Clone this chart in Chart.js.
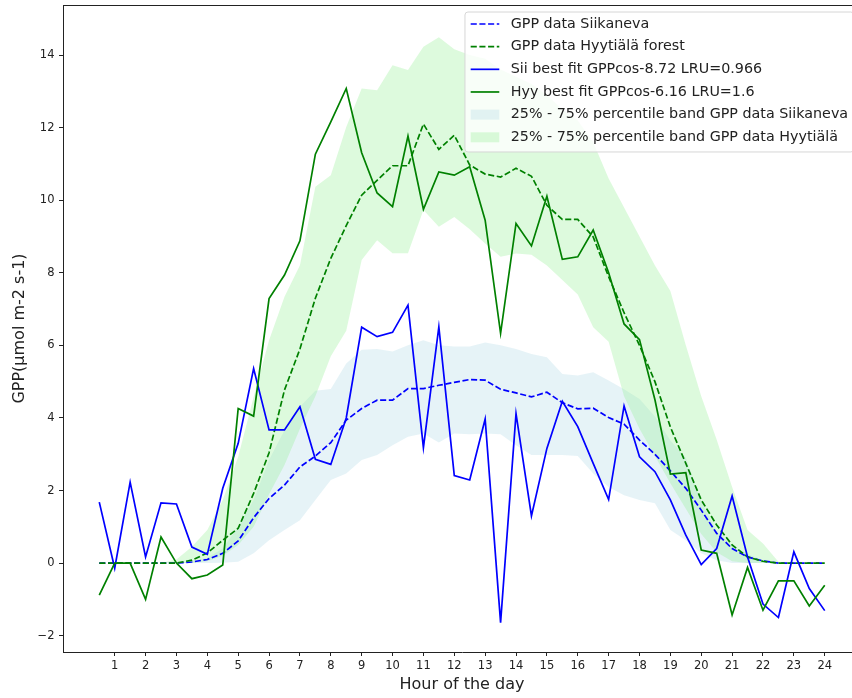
<!DOCTYPE html>
<html>
<head>
<meta charset="utf-8">
<script src="https://cdn.jsdelivr.net/npm/chart.js@4.4.1/dist/chart.umd.min.js"></script>
<style>
  html, body { margin: 0; padding: 0; background: #fff; overflow: hidden; }
  #wrap { width: 852px; height: 698px; overflow: hidden; }
</style>
</head>
<body>
<div id="wrap"><canvas id="gpp" width="866" height="698"></canvas></div>
<script>
// half-hourly values, hour of the day
const hours = [0.5, 1, 1.5, 2, 2.5, 3, 3.5, 4, 4.5, 5, 5.5, 6, 6.5, 7, 7.5, 8,
  8.5, 9, 9.5, 10, 10.5, 11, 11.5, 12, 12.5, 13, 13.5, 14, 14.5, 15, 15.5, 16,
  16.5, 17, 17.5, 18, 18.5, 19, 19.5, 20, 20.5, 21, 21.5, 22, 22.5, 23, 23.5, 24];
const hourTicks = [1, 2, 3, 4, 5, 6, 7, 8, 9, 10, 11, 12, 13, 14, 15, 16, 17, 18, 19, 20, 21, 22, 23, 24];
const gppTicks = [-2, 0, 2, 4, 6, 8, 10, 12, 14];

const siiData = [0, 0, 0, 0, 0, 0, 0.03, 0.10, 0.27, 0.61, 1.25, 1.78, 2.15, 2.65, 2.95, 3.32,
  3.94, 4.26, 4.49, 4.49, 4.81, 4.81, 4.90, 4.98, 5.06, 5.04, 4.79, 4.69, 4.58, 4.71, 4.42, 4.25,
  4.27, 4.01, 3.83, 3.39, 3.00, 2.54, 2.06, 1.46, 0.82, 0.40, 0.17, 0.06, 0, 0, 0, 0];
const hyyData = [0, 0, 0, 0, 0, 0, 0.08, 0.28, 0.63, 0.96, 1.92, 3.04, 4.77, 5.90, 7.30, 8.40,
  9.30, 10.14, 10.55, 10.95, 10.95, 12.10, 11.40, 11.79, 10.97, 10.72, 10.64, 10.88, 10.66, 9.86, 9.47, 9.47,
  8.99, 7.89, 6.90, 6.00, 5.00, 3.75, 2.75, 1.74, 1.05, 0.50, 0.17, 0.05, 0, 0, 0, 0];
const siiFit = [1.68, -0.14, 2.23, 0.17, 1.66, 1.63, 0.44, 0.24, 2.06, 3.30, 5.36, 3.67, 3.67, 4.31, 2.86, 2.72,
  4.00, 6.50, 6.24, 6.36, 7.11, 3.18, 6.51, 2.41, 2.29, 3.97, -1.64, 4.12, 1.30, 3.16, 4.46, 3.76,
  2.75, 1.75, 4.33, 2.93, 2.52, 1.74, 0.77, -0.04, 0.40, 1.85, 0.17, -1.13, -1.50, 0.31, -0.70, -1.31];
const hyyFit = [-0.88, 0, 0, -1.00, 0.72, 0, -0.43, -0.33, -0.05, 4.26, 4.05, 7.29, 7.94, 8.88, 11.27, 12.16,
  13.08, 11.31, 10.20, 9.82, 11.77, 9.75, 10.78, 10.69, 10.92, 9.45, 6.33, 9.36, 8.74, 10.11, 8.37, 8.44,
  9.18, 8.00, 6.59, 6.16, 4.50, 2.45, 2.49, 0.36, 0.27, -1.43, -0.12, -1.30, -0.49, -0.49, -1.18, -0.61];
const siiLow = [0, 0, 0, 0, 0, 0, 0, 0, 0.01, 0.04, 0.27, 0.63, 0.91, 1.18, 1.74, 2.29,
  2.47, 2.84, 2.98, 3.25, 3.48, 3.57, 3.32, 3.57, 3.55, 3.57, 3.55, 3.25, 2.98, 2.98, 2.98, 2.95,
  2.47, 2.10, 1.87, 1.74, 1.65, 0.91, 0.63, 0.27, 0.08, 0, 0, 0, 0, 0, 0, 0];
const siiHigh = [0, 0, 0, 0, 0, 0, 0.05, 0.15, 0.40, 1.00, 1.74, 2.84, 3.66, 4.31, 4.75, 4.80,
  5.50, 5.88, 5.90, 5.83, 6.00, 6.14, 6.00, 5.97, 5.97, 6.08, 6.00, 5.90, 5.76, 5.67, 5.21, 5.17,
  5.26, 5.03, 4.79, 4.52, 4.04, 3.38, 2.90, 1.70, 0.88, 0.48, 0.25, 0.08, 0.02, 0, 0, 0];
const hyyLow = [0, 0, 0, 0, 0, 0, 0, 0.05, 0.20, 0.50, 1.00, 1.90, 2.70, 3.70, 4.60, 5.70,
  6.40, 8.35, 8.90, 8.54, 8.54, 9.73, 9.27, 9.54, 9.20, 8.81, 8.44, 8.53, 8.50, 8.20, 7.80, 7.40,
  6.50, 6.10, 4.60, 3.70, 2.95, 2.20, 1.50, 0.80, 0.30, 0.05, 0, 0, 0, 0, 0, 0];
const hyyHigh = [0, 0, 0, 0, 0, 0.10, 0.45, 0.91, 1.74, 2.93, 4.58, 6.14, 7.34, 8.21, 10.37, 10.69,
  12.02, 13.08, 13.03, 13.72, 13.59, 14.23, 14.49, 14.16, 14.00, 13.90, 13.60, 13.40, 13.20, 12.90, 12.50, 12.20,
  11.60, 10.60, 9.80, 9.00, 8.20, 7.50, 6.00, 4.60, 3.40, 2.10, 0.91, 0.54, 0.04, 0, 0, 0];

const ink = '#222';
Chart.defaults.font.family = '"DejaVu Sans", sans-serif';
Chart.defaults.color = ink;

const toPts = vals => hours.map((h, i) => ({x: h, y: vals[i]}));

function lineSet(label, vals, color, dashed, order) {
  return {
    label, data: toPts(vals), borderColor: color, backgroundColor: color,
    borderWidth: 1.7, borderDash: dashed ? [6.1, 2.6] : [],
    pointRadius: 0, tension: 0, fill: false, order
  };
}
function bandSets(label, lo, hi, color, order) {
  return [
    {label: '', data: toPts(lo), borderColor: 'rgba(0,0,0,0)', borderWidth: 0,
      pointRadius: 0, fill: false, order},
    {label, data: toPts(hi), borderColor: 'rgba(0,0,0,0)', borderWidth: 0,
      backgroundColor: color, pointRadius: 0, fill: '-1', order}
  ];
}

// top spine + matplotlib-like legend in the upper right corner
const frameLegend = {
  id: 'frameLegend',
  afterDraw(chart) {
    const {ctx, chartArea: a} = chart;
    ctx.save();
    ctx.strokeStyle = ink;
    ctx.lineWidth = 1;
    ctx.setLineDash([]);
    ctx.beginPath();
    ctx.moveTo(a.left, a.top + 0.5);
    ctx.lineTo(a.right, a.top + 0.5);
    ctx.stroke();

    const fs = 14.3;
    ctx.font = fs + 'px "DejaVu Sans"';
    const items = chart.data.datasets.filter(d => d.label);
    const textW = Math.max(...items.map(d => ctx.measureText(d.label).width));
    const pad = 0.4 * fs, handle = 2 * fs, gap = 0.8 * fs, row = 22.66;
    const w = pad + handle + gap + textW + pad;
    const h = items.length * row + 4;
    const x0 = a.right - 0.5 * fs - w, y0 = a.top + 7, r = 3;

    ctx.beginPath();
    ctx.moveTo(x0 + r, y0);
    ctx.arcTo(x0 + w, y0, x0 + w, y0 + h, r);
    ctx.arcTo(x0 + w, y0 + h, x0, y0 + h, r);
    ctx.arcTo(x0, y0 + h, x0, y0, r);
    ctx.arcTo(x0, y0, x0 + w, y0, r);
    ctx.closePath();
    ctx.fillStyle = 'rgba(255,255,255,0.8)';
    ctx.fill();
    ctx.strokeStyle = '#d6d6d6';
    ctx.stroke();

    items.forEach((d, i) => {
      const cy = y0 + 12 + i * row;
      const hx = x0 + pad;
      if (d.fill) {
        ctx.fillStyle = d.backgroundColor;
        ctx.fillRect(hx, cy - 0.35 * fs, handle, 0.7 * fs);
      } else {
        ctx.strokeStyle = d.borderColor;
        ctx.lineWidth = d.borderWidth;
        ctx.setLineDash(d.borderDash);
        ctx.beginPath();
        ctx.moveTo(hx, cy);
        ctx.lineTo(hx + handle, cy);
        ctx.stroke();
        ctx.setLineDash([]);
      }
      ctx.fillStyle = ink;
      ctx.textBaseline = 'middle';
      ctx.textAlign = 'left';
      ctx.fillText(d.label, hx + handle + gap, cy);
    });
    ctx.restore();
  }
};

new Chart(document.getElementById('gpp'), {
  type: 'line',
  data: {
    datasets: [
      lineSet('GPP data Siikaneva', siiData, 'blue', true, 3),
      lineSet('GPP data Hyytiälä forest', hyyData, 'green', true, 2),
      lineSet('Sii best fit GPPcos-8.72 LRU=0.966', siiFit, 'blue', false, 1),
      lineSet('Hyy best fit GPPcos-6.16 LRU=1.6', hyyFit, 'green', false, 0),
      ...bandSets('25% - 75% percentile band GPP data Siikaneva', siiLow, siiHigh, 'rgba(173,216,230,0.3)', 5),
      ...bandSets('25% - 75% percentile band GPP data Hyytiälä', hyyLow, hyyHigh, 'rgba(144,238,144,0.3)', 4)
    ]
  },
  options: {
    responsive: false,
    animation: false,
    devicePixelRatio: 1,
    events: [],
    layout: {padding: {left: 0, top: 5, right: 5, bottom: 0}},
    plugins: {legend: {display: false}, tooltip: {enabled: false}},
    scales: {
      x: {
        type: 'linear',
        min: -0.675,
        max: 25.175,
        afterBuildTicks: s => { s.ticks = hourTicks.map(v => ({value: v})); },
        afterFit: s => { s.height = 46; s.paddingLeft = 0; s.paddingRight = 0; },
        grid: {drawOnChartArea: false, drawTicks: true, tickLength: 4, color: ink},
        border: {display: true, color: ink, width: 1},
        ticks: {font: {size: 11.5}, color: ink, padding: 3.5, maxRotation: 0, autoSkip: false},
        title: {display: true, text: 'Hour of the day', font: {size: 16}, color: ink,
          padding: {top: 0, bottom: 3.2}}
      },
      y: {
        type: 'linear',
        min: -2.45,
        max: 15.38,
        afterBuildTicks: s => { s.ticks = gppTicks.map(v => ({value: v})); },
        afterFit: s => { s.width = 63; s.paddingTop = 0; s.paddingBottom = 0; },
        grid: {drawOnChartArea: false, drawTicks: true, tickLength: 4, color: ink},
        border: {display: true, color: ink, width: 1},
        ticks: {font: {size: 11.5}, color: ink, padding: 4.5,
          callback: v => String(v).replace('-', '\u2212')},
        title: {display: true, text: 'GPP(μmol m-2 s-1)', font: {size: 16}, color: ink,
          padding: {top: 10.5, bottom: 0}}
      }
    }
  },
  plugins: [frameLegend]
});
</script>
</body>
</html>
